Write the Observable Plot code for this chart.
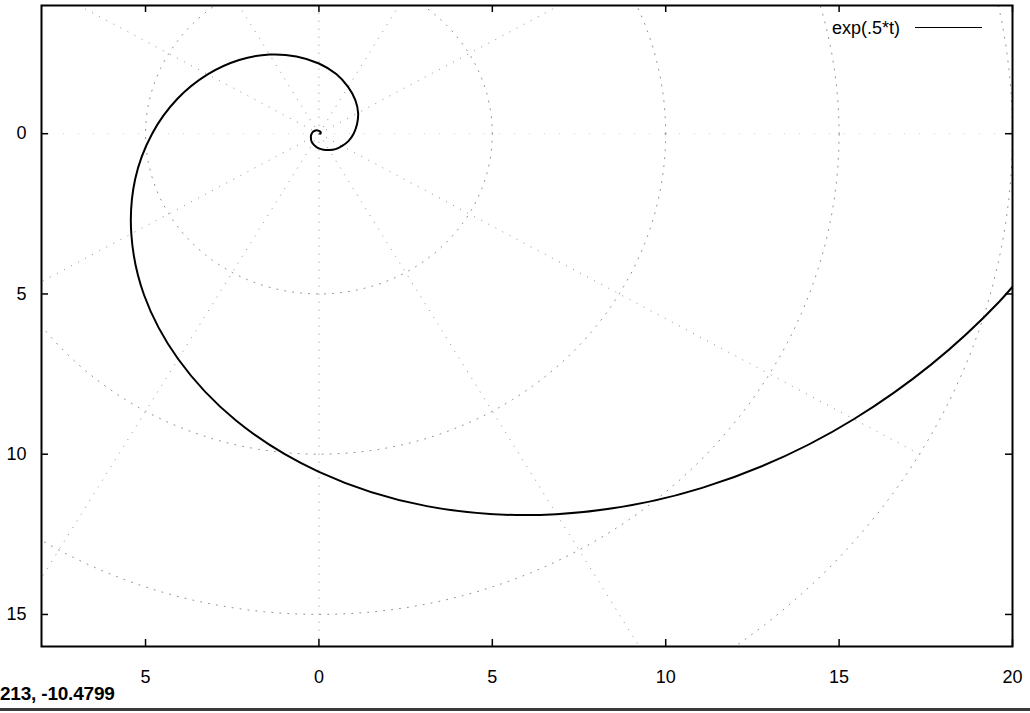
<!DOCTYPE html>
<html>
<head>
<meta charset="utf-8">
<script src="https://cdn.jsdelivr.net/npm/d3@7"></script>
<script src="https://cdn.jsdelivr.net/npm/@observablehq/plot@0.6"></script>
<style>
  body { margin: 0; background: #fff; }
  #wrap { position: relative; width: 1030px; height: 713px; overflow: hidden; background: #fff;
          font-family: "Liberation Sans", Arial, sans-serif; color: #000; }
  #legendText { position: absolute; right: 130px; top: 17px; font-size: 18px; line-height: 22px; }
  #legendLine { position: absolute; left: 915px; width: 67px; top: 27px; height: 0; border-top: 1.5px solid #000; }
  #status { position: absolute; left: 0; top: 684px; font-size: 19px; font-weight: bold; line-height: 20px; letter-spacing: -0.2px; }
  #bar { position: absolute; left: 0; width: 1030px; top: 708px; height: 3px; background: #3a3a3a; }
</style>
</head>
<body>
<div id="wrap"></div>
<script>
// Spiral r = exp(.5*t) (x, y in plot units)
const curveX = [0.04, 0.05, 0.05, 0.05, 0.04, 0.02, 0.00, -0.03, -0.06, -0.10, -0.14, -0.18, -0.21,
                -0.23, -0.23, -0.22, -0.18, -0.10, 0.00, 0.13, 0.30, 0.48, 0.67, 0.85,
                1.00, 1.10, 1.13, 1.05, 0.84, 0.50, 0.00, -0.65, -1.42, -2.30, -3.21, -4.08,
                -4.81, -5.30, -5.41, -5.04, -4.06, -2.40, 0.00, 3.11, 6.85, 11.05, 15.42, 19.61, 23.14];
const curveY = [0.00, 0.01, 0.03, 0.05, 0.06, 0.08, 0.09, 0.10, 0.11, 0.10, 0.08, 0.05, 0.00,
                -0.06, -0.14, -0.22, -0.30, -0.39, -0.46, -0.50, -0.51, -0.48, -0.38, -0.23,
                0.00, 0.30, 0.65, 1.05, 1.46, 1.86, 2.19, 2.41, 2.47, 2.30, 1.85, 1.09,
                0.00, -1.42, -3.13, -5.04, -7.03, -8.94, -10.55, -11.62, -11.87, -11.05, -8.91, -5.25, 0.00];

const xTicks = [-5, 0, 5, 10, 15, 20];
const yTicks = [0, -5, -10, -15];
const gridRadii = [5, 10, 15, 20];
const gridAngles = [0, 30, 60, 90, 120, 150, 180, 210, 240, 270, 300, 330];
const seriesLabel = "exp(.5*t)";
const statusText = "213, -10.4799";

const curve = curveX.map((x, i) => ({x, y: curveY[i]}));

// polar grid geometry built from the grid tick arrays
const rad = a => a * Math.PI / 180;
const circlePts = gridRadii.flatMap(r =>
  d3.range(0, 361, 2).map(a => ({r, x: r * Math.cos(rad(a)), y: r * Math.sin(rad(a))})));
const rMax = d3.max(gridRadii);
const spokes = gridAngles.filter(a => a % 180 !== 0);
const flatSpokes = gridAngles.filter(a => a % 180 === 0);

const W = 1030, H = 713;
const mL = 41, mR = 18, mT = 5, mB = 67;
const fw = W - mL - mR, fh = H - mT - mB;
const tickLen = 7;
const gridStyle = {stroke: "#8f8f8f", strokeWidth: 1, strokeDasharray: "1,7"};
const spokeOpts = {
  x1: () => 0, y1: () => 0,
  x2: a => rMax * Math.cos(rad(a)), y2: a => rMax * Math.sin(rad(a)),
  clip: true
};

const plot = Plot.plot({
  width: W,
  height: H,
  marginLeft: mL,
  marginRight: mR,
  marginTop: mT,
  marginBottom: mB,
  x: {domain: [-8, 20]},
  y: {domain: [-16, 4]},
  style: {fontFamily: "'Liberation Sans', Arial, sans-serif", fontSize: "18px", color: "#000", background: "transparent"},
  marks: [
    Plot.line(circlePts, {x: "x", y: "y", z: "r", clip: true, ...gridStyle}),
    Plot.link(spokes, {...spokeOpts, ...gridStyle}),
    Plot.link(flatSpokes, {...spokeOpts, stroke: "#d0d0d0", strokeWidth: 1, strokeDasharray: "1,14"}),
    Plot.line(curve, {x: "x", y: "y", curve: "catmull-rom", stroke: "#000", strokeWidth: 2, clip: true}),
    // inward ticks, mirrored on all four sides
    Plot.ruleX(xTicks, {x: d => d, insetTop: fh - tickLen, stroke: "#000", strokeWidth: 1.5}),
    Plot.ruleX(xTicks, {x: d => d, insetBottom: fh - tickLen, stroke: "#000", strokeWidth: 1.5}),
    Plot.ruleY(yTicks, {y: d => d, insetRight: fw - tickLen, stroke: "#000", strokeWidth: 1.5}),
    Plot.ruleY(yTicks, {y: d => d, insetLeft: fw - tickLen, stroke: "#000", strokeWidth: 1.5}),
    Plot.axisX(xTicks, {tickSize: 0, tickPadding: 24, tickFormat: d => Math.abs(d), fill: "#000", label: null}),
    Plot.axisY(yTicks, {tickSize: 0, tickPadding: 15, tickFormat: d => Math.abs(d), fill: "#000", label: null}),
    Plot.frame({stroke: "#000", strokeWidth: 2})
  ]
});

const wrap = document.getElementById("wrap");
wrap.appendChild(plot);

const lt = document.createElement("div");
lt.id = "legendText"; lt.textContent = seriesLabel; wrap.appendChild(lt);
const ll = document.createElement("div");
ll.id = "legendLine"; wrap.appendChild(ll);
const st = document.createElement("div");
st.id = "status"; st.textContent = statusText; wrap.appendChild(st);
const bar = document.createElement("div");
bar.id = "bar"; wrap.appendChild(bar);
</script>
</body>
</html>
